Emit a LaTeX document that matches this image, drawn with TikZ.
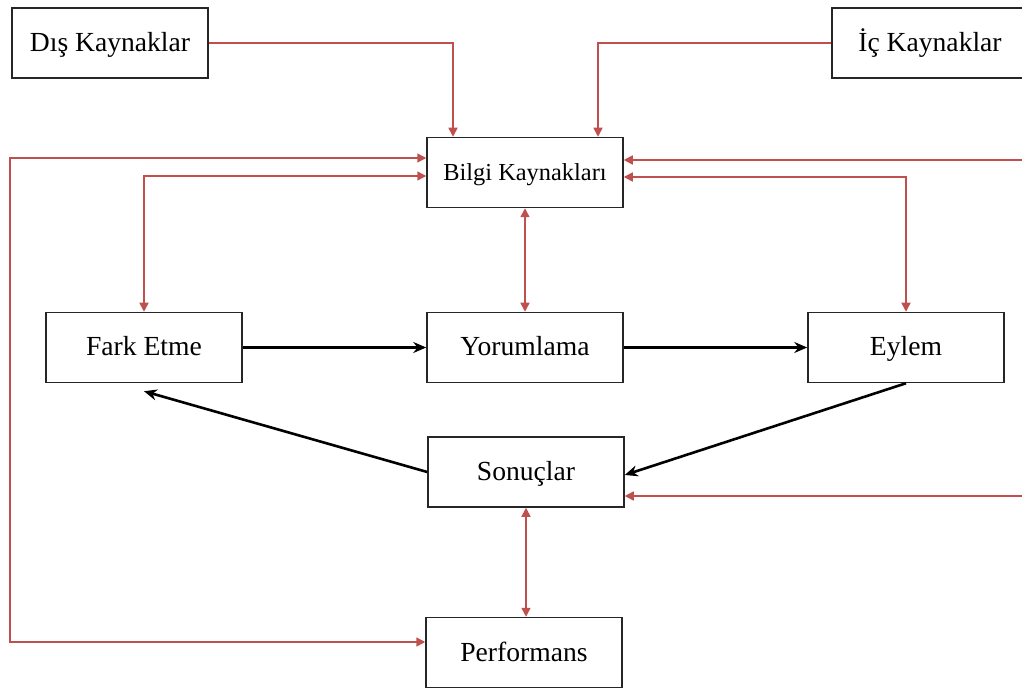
\documentclass[tikz,border=0pt]{standalone}
\usepackage{fontspec}
\setmainfont{Liberation Serif}
\usetikzlibrary{arrows.meta}
\definecolor{kirmizi}{RGB}{192,80,77}

\begin{document}
\begin{tikzpicture}[x=0.5pt,y=-0.5pt,
	kutu/.style={draw=black!85, line width=0.75pt, minimum width=98pt, minimum height=35pt, inner sep=0pt, text height=10.5pt, text depth=2pt, font=\fontsize{13.8}{16}\selectfont},
	bag/.style={kirmizi, line width=0.75pt, -{Triangle[length=4.5pt,width=4.5pt]}},
	cift/.style={kirmizi, line width=0.75pt, {Triangle[length=4.5pt,width=4.5pt]}-{Triangle[length=4.5pt,width=4.5pt]}},
	akis/.style={line width=1.3pt, -{Stealth[length=6.5pt,width=5.5pt]}}]

	% Frame
	\clip (0,0) rectangle (1022,689);
	\fill[white] (0,0) rectangle (1022,689);

	% Boxes
	\node[kutu] (dis) at (110,43) {Dış Kaynaklar};
	\node[kutu] (ic) at (930,43) {İç Kaynaklar};
	\node[kutu, font=\fontsize{12.2}{14}\selectfont] (bilgi) at (525,172.5) {Bilgi Kaynakları};
	\node[kutu] (fark) at (144,347.5) {Fark Etme};
	\node[kutu] (yorum) at (525,347.5) {Yorumlama};
	\node[kutu] (eylem) at (906,347.5) {Eylem};
	\node[kutu] (sonuc) at (526,472) {Sonuçlar};
	\node[kutu] (perf) at (524,652.5) {Performans};

	% Outer corners
	\coordinate (solust) at (10,158);
	\coordinate (solalt) at (10,642);
	\coordinate (sagust) at (1022,160);
	\coordinate (sagalt) at (1022,496);

	% Red links
	\draw[bag] (dis.east) -| ([xshift=-36pt]bilgi.north);
	\draw[bag] (ic.west) -| ([xshift=36.5pt]bilgi.north);
	\draw[cift] (solust -| bilgi.west) -- (solust) -- (solalt) -- (solalt -| perf.west);
	\draw[cift] (fark.north) |- ([yshift=-1.75pt]bilgi.west);
	\draw[bag] (sagust) -- (sagust -| bilgi.east);
	\draw[cift] (eylem.north) |- ([yshift=-2.25pt]bilgi.east);
	\draw[cift] (bilgi.south) -- (yorum.north);
	\draw[cift] (sonuc.south) -- (sonuc.south |- perf.north);
	\draw[bag] (sagalt) -- (sagalt -| sonuc.east);

	% Black flow
	\draw[akis] (fark) -- (yorum);
	\draw[akis] (yorum) -- (eylem);
	\draw[akis] (eylem.south) -- ([yshift=-1.5pt]sonuc.east);
	\draw[akis] (sonuc.west) -- ([yshift=-4pt]fark.south);

\end{tikzpicture}
\end{document}
